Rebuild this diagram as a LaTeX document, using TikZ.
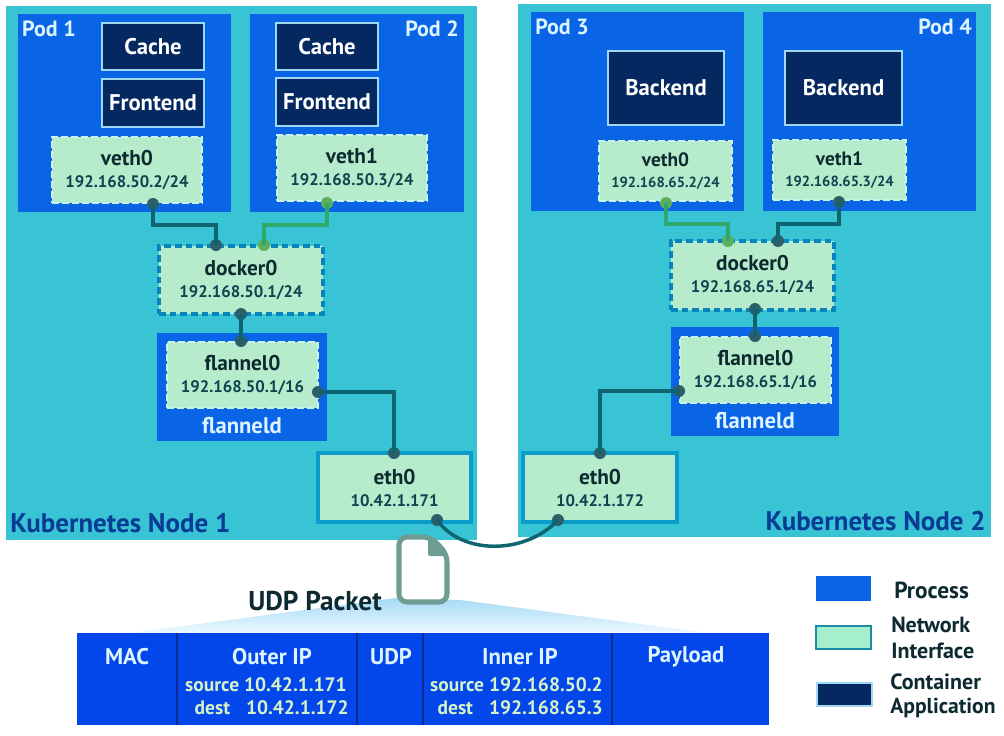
\documentclass[tikz,border=0pt]{standalone}
\usepackage{fontspec}
\setmainfont{PT Sans}
\usetikzlibrary{calc}
\definecolor{nodebg}{HTML}{38C4D4}
\definecolor{podblue}{HTML}{0A64E6}
\definecolor{appnavy}{HTML}{04285F}
\definecolor{iface}{HTML}{B6ECCB}
\definecolor{dashcyan}{HTML}{0884BC}
\definecolor{dashpale}{HTML}{C6F3EA}
\definecolor{ethedge}{HTML}{0A9CCB}
\definecolor{appedge}{HTML}{9FD8F5}
\definecolor{pktblue}{HTML}{0346EA}
\definecolor{pktline}{HTML}{0A2C90}
\definecolor{pale}{HTML}{DCF4FF}
\definecolor{palegreen}{HTML}{D6F2C8}
\definecolor{wirdark}{HTML}{0E6470}
\definecolor{dotdark}{HTML}{2C5F68}
\definecolor{wirgreen}{HTML}{2FA86C}
\definecolor{dotgreen}{HTML}{5CAF5E}
\definecolor{kube}{HTML}{063C96}
\definecolor{inktxt}{HTML}{0C2A30}
\definecolor{iptxt}{HTML}{0E4450}
\definecolor{docgreen}{HTML}{6E9E92}
\definecolor{wedgetop}{HTML}{A6DAF7}
\definecolor{wedgebot}{HTML}{EEF9FE}
\definecolor{legendif}{HTML}{A5EFCF}
\definecolor{legendedge}{HTML}{1C8CA8}
\newcommand\bx[7][]{\node[boxbase,#1,minimum width={(#5-#3)*0.75pt},minimum height={(#6-#4)*0.75pt}] (#2) at ({(#3+#5)/2},{(#4+#6)/2}) {#7};}
\newcommand\ifc[2]{{\fontsize{16}{19}\bfseries\color{inktxt}#1}\\[4.5pt]{\fontsize{12.5}{14}\bfseries\color{iptxt}#2}}
\newcommand\ifcs[2]{{\fontsize{14.5}{17}\bfseries\color{inktxt}#1}\\[4pt]{\fontsize{11}{13}\bfseries\color{iptxt}#2}}
\tikzset{
  boxbase/.style={inner sep=0pt,outer sep=0pt,align=center},
  knode/.style={fill=nodebg},
  pod/.style={fill=podblue},
  app/.style={fill=appnavy,draw=appedge,line width=1.4pt,text=white,font=\fontsize{17}{20}\bfseries},
  vethbox/.style={fill=iface,draw=dashpale,line width=1.6pt,dash pattern=on 5pt off 2.5pt},
  dockerbox/.style={fill=iface,draw=dashcyan,line width=2.6pt,dash pattern=on 5pt off 3pt},
  ethbox/.style={fill=iface,draw=ethedge,line width=2.4pt},
  podlabel/.style={text=pale,font=\fontsize{16.5}{19}\bfseries,inner sep=0pt},
  flabel/.style={text=pale,font=\fontsize{17}{20}\bfseries,inner sep=0pt},
  kubelabel/.style={text=kube,font=\fontsize{20.2}{24}\bfseries,inner sep=0pt},
  dotd/.style={circle,fill=dotdark,minimum size=9pt,inner sep=0pt,outer sep=0pt},
  dotg/.style={circle,fill=dotgreen,minimum size=9pt,inner sep=0pt,outer sep=0pt},
  wired/.style={draw=wirdark,line width=2.6pt},
  wireg/.style={draw=wirgreen,line width=2.6pt},
  pkt/.style={fill=pktblue},
  pkthead/.style={text=pale,font=\fontsize{17}{20}\bfseries,inner sep=0pt},
  pktsub/.style={text=palegreen,font=\fontsize{14.6}{17}\bfseries,inner sep=0pt},
  legendtxt/.style={text=inktxt,font=\fontsize{16.5}{19}\bfseries,inner sep=0pt,anchor=west},
  pktsep/.style={draw=pktline,line width=1pt},
}
\begin{document}
\begin{tikzpicture}[x=0.75pt,y=-0.75pt]
\path[use as bounding box,fill=white] (0,0) rectangle (1004,736);
% Kubernetes nodes
\bx[knode]{nodeA}{6}{6}{477}{540}{}
\bx[knode]{nodeB}{518}{4}{991}{537}{}
% pods
\bx[pod]{podA}{18}{14}{231}{212}{}
\bx[pod]{podB}{250}{14}{464}{212}{}
\bx[pod]{podC}{531}{12}{744}{211}{}
\bx[pod]{podD}{763}{12}{976}{211}{}
\node[podlabel] (lA) at (49,29) {Pod 1};
\node[podlabel] (lB) at (432,29) {Pod 2};
\node[podlabel] (lC) at (562,27) {Pod 3};
\node[podlabel] (lD) at (945,27) {Pod 4};
% containers
\bx[app]{cacheA}{102}{23}{204}{70}{Cache}
\bx[app]{frontA}{102}{79}{204}{127}{Frontend}
\bx[app]{cacheB}{276}{23}{378}{70}{Cache}
\bx[app]{frontB}{276}{78}{378}{126}{Frontend}
\bx[app]{backC}{608}{51}{724}{125}{Backend}
\bx[app]{backD}{785}{51}{902}{125}{Backend}
% flanneld process boxes
\bx[pod]{fdA}{157}{333}{327}{441}{}
\bx[pod]{fdB}{671}{327}{839}{436}{}
\node[flabel] (fdAl) at (242,426) {flanneld};
\node[flabel] (fdBl) at (755,421) {flanneld};
% interfaces
\bx[vethbox]{vethA}{52}{137}{202}{203}{\ifc{veth0}{192.168.50.2/24}}
\bx[vethbox]{vethB}{277}{135}{427}{201}{\ifc{veth1}{192.168.50.3/24}}
\bx[vethbox]{vethC}{599}{141}{732}{201}{\ifcs{veth0}{192.168.65.2/24}}
\bx[vethbox]{vethD}{773}{140}{906}{200}{\ifcs{veth1}{192.168.65.3/24}}
\bx[dockerbox]{dockA}{159}{246}{323}{314}{\ifc{docker0}{192.168.50.1/24}}
\bx[dockerbox]{dockB}{671}{241}{834}{310}{\ifc{docker0}{192.168.65.1/24}}
\bx[vethbox]{flanA}{167}{342}{318}{408}{\ifc{flannel0}{192.168.50.1/16}}
\bx[vethbox]{flanB}{680}{337}{831}{403}{\ifc{flannel0}{192.168.65.1/16}}
\bx[ethbox]{ethA}{318}{453}{471}{522}{\ifc{eth0}{10.42.1.171}}
\bx[ethbox]{ethB}{523}{453}{677}{522}{\ifc{eth0}{10.42.1.172}}
\node[kubelabel,anchor=west] (kA) at (10,523) {Kubernetes Node 1};
\node[kubelabel,anchor=east] (kB) at (986,521) {Kubernetes Node 2};
% connector dots
\node[dotd] (a1) at (153,204) {};
\node[dotd] (a2) at (216,245) {};
\node[dotg] (b1) at (327,203) {};
\node[dotg] (b2) at (264,245) {};
\node[dotd] (a3) at (241,314) {};
\node[dotd] (a4) at (241,341) {};
\node[dotd] (a5) at (318,392) {};
\node[dotd] (a6) at (394,453) {};
\node[dotd] (a7) at (437,520) {};
\node[dotg] (c1) at (666,203) {};
\node[dotg] (c2) at (728,241) {};
\node[dotd] (d1) at (839,202) {};
\node[dotd] (d2) at (778,241) {};
\node[dotd] (c3) at (755,309) {};
\node[dotd] (c4) at (755,336) {};
\node[dotd] (c5) at (679,391) {};
\node[dotd] (c6) at (600,453) {};
\node[dotd] (c7) at (558,520) {};
% connectors
\draw[wired] (a1.center) -- ++(0,21) -| (a2.center);
\draw[wireg] (b1.center) -- ++(0,22) -| (b2.center);
\draw[wired] (a3.center) -- (a4.center);
\draw[wired] (a5.center) -| (a6.center);
\draw[wireg] (c1.center) -- ++(0,21) -| (c2.center);
\draw[wired] (d1.center) -- ++(0,22) -| (d2.center);
\draw[wired] (c3.center) -- (c4.center);
\draw[wired] (c5.center) -| (c6.center);
\draw[wired] (a7.center) .. controls (462,555) and (525,555) .. (c7.center);
% packet wedge
\shade[top color=wedgetop,bottom color=wedgebot] (130,633) -- (396,598) -- (460,600) -- (700,632) -- cycle;
% document icon
\draw[draw=docgreen,line width=3.8pt,fill=white,rounded corners=6pt,line join=round] (399,537) -- (431,537) -- (447,554) -- (447,602) -- (399,602) -- cycle;
\fill[docgreen,rounded corners=1.5pt] (428,537) -- (433,537) -- (447,553) -- (447,556) -- (428,556) -- cycle;
\node[text=inktxt,font=\fontsize{20.4}{24}\bfseries,inner sep=0pt] (udp) at (315,601) {UDP Packet};
% packet table
\bx[pkt]{pmac}{77}{633}{177}{725}{}
\bx[pkt]{pouter}{177}{633}{357}{725}{}
\bx[pkt]{pudp}{357}{633}{423}{725}{}
\bx[pkt]{pinner}{423}{633}{612}{725}{}
\bx[pkt]{ppay}{612}{633}{769}{725}{}
\draw[pktsep] (pmac.north east) -- (pmac.south east);
\draw[pktsep] (pouter.north east) -- (pouter.south east);
\draw[pktsep] (pudp.north east) -- (pudp.south east);
\draw[pktsep] (pinner.north east) -- (pinner.south east);
\node[pkthead] (t1) at (127,657) {MAC};
\node[pkthead] (t2) at (272,657) {Outer IP};
\node[pkthead] (t3) at (391,657) {UDP};
\node[pkthead] (t4) at (520,657) {Inner IP};
\node[pkthead] (t5) at (686,657) {Payload};
\node[pktsub,anchor=base east] (s1) at (347,691) {source 10.42.1.171};
\node[pktsub,anchor=base east] (s2) at (349,714) {dest\hspace{12pt}10.42.1.172};
\node[pktsub,anchor=base east] (s3) at (603,691) {source 192.168.50.2};
\node[pktsub,anchor=base east] (s4) at (603,714) {dest\hspace{12pt}192.168.65.3};
% legend
\bx[fill=podblue]{lg1}{816}{576}{871}{601}{}
\bx[fill=legendif,draw=legendedge,line width=1.2pt]{lg2}{816}{626}{871}{649}{}
\bx[fill=appnavy,draw=appedge,line width=1pt]{lg3}{817}{683}{872}{706}{}
\node[legendtxt,font=\fontsize{17.5}{20}\bfseries] (g1) at (894,590) {Process};
\node[legendtxt] (g2) at (891,625) {Network};
\node[legendtxt] (g3) at (891,651) {Interface};
\node[legendtxt] (g4) at (890,682) {Container};
\node[legendtxt,font=\fontsize{16.2}{19}\bfseries] (g5) at (890,708) {Application};
\end{tikzpicture}
\end{document}
